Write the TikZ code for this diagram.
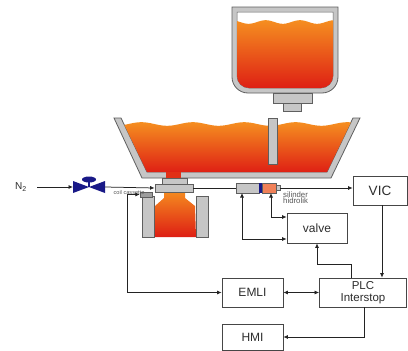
\documentclass[tikz,border=0pt]{standalone}
\usepackage{fontspec}
\setmainfont{Liberation Sans}
\usetikzlibrary{arrows.meta}

\definecolor{wallgrey}{RGB}{198,198,198}
\definecolor{walledge}{RGB}{95,95,95}
\definecolor{moltop}{RGB}{245,142,32}
\definecolor{molbot}{RGB}{222,30,20}
\definecolor{linegrey}{RGB}{35,35,35}
\definecolor{boxedge}{RGB}{70,70,70}
\definecolor{textgrey}{RGB}{45,45,45}
\definecolor{navy}{RGB}{25,25,135}
\definecolor{cylorange}{RGB}{240,128,88}

\tikzset{
  wall/.style={fill=wallgrey, draw=walledge, line width=0.8pt},
  molten/.style={top color=moltop, bottom color=molbot},
  box/.style={draw=boxedge, line width=0.8pt, fill=white, text=textgrey,
    inner sep=0pt, align=center, font=\fontsize{12}{13}\selectfont},
  conn/.style={draw=linegrey, line width=0.75pt},
  tinylabel/.style={text=textgrey!80, inner sep=0pt, align=left,
    font=\fontsize{7.8}{8}\selectfont},
}

\begin{document}
\begin{tikzpicture}[x=1pt, y=-1pt, >={Latex[length=4.5pt,width=4pt]}]
\useasboundingbox (0,0) rectangle (408,351);
\fill[white] (0,0) rectangle (408,351);

% ---------------- ladle ----------------
\filldraw[wall] (232,7) -- (232,77) arc[start angle=180,end angle=90,radius=16]
  -- (322,93) arc[start angle=90,end angle=0,radius=16] -- (338,7) -- cycle;
\filldraw[fill=white, draw=walledge, line width=0.5pt]
  (237,12) -- (237,76) arc[start angle=180,end angle=90,radius=12]
  -- (321,88) arc[start angle=90,end angle=0,radius=12] -- (333,12) -- cycle;
\begin{scope}
  \clip (237,12) -- (237,76) arc[start angle=180,end angle=90,radius=12]
    -- (321,88) arc[start angle=90,end angle=0,radius=12] -- (333,12) -- cycle;
  \shade[molten] plot[domain=236:334, samples=60] (\x,{22+1.8*sin(10.5*\x)})
    -- (334,89) -- (236,89) -- cycle;
\end{scope}
\filldraw[wall] (273,93) rectangle (312,103);
\filldraw[wall] (283,103) rectangle (301,111);

% ---------------- tundish ----------------
\filldraw[wall] (114,118) -- (142,178) -- (331,178) -- (360,118) -- (353,118)
  -- (327,172) -- (147,172) -- (121,118) -- cycle;
\begin{scope}
  \clip (121,118) -- (147,172) -- (327,172) -- (353,118) -- cycle;
  \shade[molten] plot[domain=115:360, samples=90] (\x,{124+1.8*sin(7*\x)})
    -- (360,173) -- (115,173) -- cycle;
\end{scope}
\fill[molbot!85!moltop] (166,171.5) rectangle (181,178.5);
% stopper bar
\filldraw[wall] (268,118) rectangle (277,164);

% ---------------- named points on the equipment ----------------
\node[text=textgrey, inner sep=0pt, font=\fontsize{10}{10}\selectfont] (n2) at (21,187) {N\textsubscript{2}};
\coordinate (nvL) at (73,187);
\coordinate (nvR) at (105,187);
\coordinate (cylL) at (236,188);
\coordinate (cylR) at (280,188);
\coordinate (cylA) at (242,193);
\coordinate (cylB) at (271,193);

% mould stream
\shade[molten] (164,190) -- (164,198) -- (155,206) -- (154,237) -- (196,237)
  -- (195,206) -- (185,198) -- (185,190) -- cycle;
% mould walls
\filldraw[wall] (142,196) rectangle (154,237);
\filldraw[wall] (196,196) rectangle (208,237);
% nozzle and slide plate
\filldraw[wall] (162,178) rectangle (187,184);
\node[wall, minimum width=38pt, minimum height=8pt, inner sep=0pt, line width=0.8pt] (slide) at (174,188) {};
% coil
\node[wall, fill=wallgrey!80!black, minimum width=12pt, minimum height=5pt, inner sep=0pt, line width=0.5pt] (coil) at (146,194.5) {};
\node[tinylabel, font=\fontsize{5.6}{6}\selectfont] (coillbl) at (129,192) {coil cassette};

% hydraulic cylinder
\filldraw[wall, line width=0.6pt] (236,183) rectangle (259,193);
\fill[navy] (259,183) rectangle (262,193);
\filldraw[fill=cylorange, draw=walledge, line width=0.6pt] (262,183) rectangle (276,193);
\filldraw[wall, line width=0.6pt] (276,185.5) rectangle (280,190.5);
\node[tinylabel, anchor=north west] (cyllbl) at (283,191.5) {silinder\\[-1.8pt]hidrolik};

% N2 valve symbol
\fill[navy] (73,181) -- (73,193) -- (105,181) -- (105,193) -- cycle;
\draw[navy, line width=1.6pt] (89,187) -- (89,180);
\fill[navy] (89,179.5) ellipse[x radius=7, y radius=3];

% ---------------- control blocks ----------------
\node[box, minimum width=54pt, minimum height=29pt, font=\fontsize{13.5}{14}\selectfont] (vic) at (380,190.5) {VIC};
\node[box, minimum width=60pt, minimum height=30pt] (valve) at (317,228) {valve};
\node[box, minimum width=87pt, minimum height=29pt, font=\fontsize{11.5}{11.5}\selectfont] (plc) at (363,292.5) {PLC\\Interstop};
\node[box, minimum width=61pt, minimum height=29pt] (emli) at (252.5,292.5) {EMLI};
\node[box, minimum width=61pt, minimum height=26pt] (hmi) at (252.5,337) {HMI};

% ---------------- signal lines ----------------
\draw[conn,->] (n2.east) ++(10,0) -- (nvL);
\draw[conn,->] (nvR) -- (slide.west);
\draw[conn] (slide.east) -- (cylL);
\draw[conn,->] (cylR) -- (cylR -| vic.west);
\draw[conn,<->] (cylB) |- ([yshift=11pt]valve.west);
\draw[conn,<->] (cylA) |- ([yshift=-11pt]valve.west);
\draw[conn,<->] (coil.west) -- (127,194.5) |- (emli.west);
\draw[conn,<->] (emli.east) -- (plc.west);
\draw[conn,->] ([xshift=2pt]vic.south) -- ([xshift=2pt]vic.south |- plc.north);
\draw[conn,->] ([xshift=-12pt]plc.north) -- ++(0,-13) -| (valve.south);
\draw[conn,->] ([xshift=1pt]plc.south) |- (hmi.east);
\end{tikzpicture}
\end{document}
